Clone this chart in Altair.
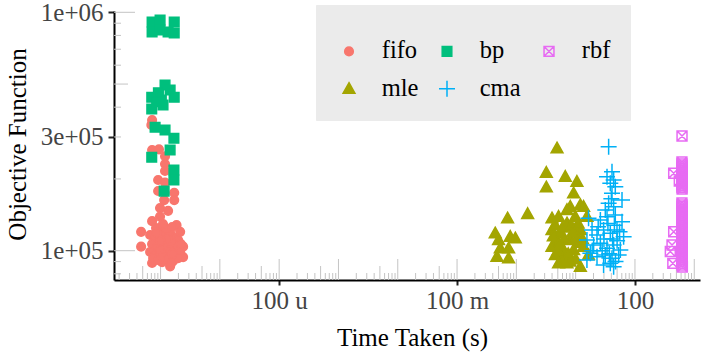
import altair as alt
import pandas as pd

# ---------------- data ----------------
fifo_x = [7.2e-7, 7.0e-7, 7.2e-7, 9.4e-7, 1.19e-6, 1.19e-6, 1.19e-6, 9.1e-7, 1.19e-6, 9.1e-7,
          1.7e-6, 1.15e-6, 1.7e-6, 9.8e-7, 1.34e-6, 7.2e-7, 9.8e-7, 1.86e-6, 4.7e-7, 2.14e-6,
          4.7e-7, 2.4e-6, 2.4e-6, 7.2e-7, 1.45e-6, 1.06e-6, 6.67e-7, 8.09e-7, 9.82e-7, 1.19e-6,
          1.45e-6, 1.76e-6, 1.98e-6, 7.2e-7, 8.7e-7, 1.06e-6, 1.29e-6, 1.57e-6, 1.9e-6, 2.2e-6,
          6.67e-7, 8.09e-7, 9.82e-7, 1.19e-6, 1.45e-6, 1.76e-6, 2.14e-6, 7.5e-7, 9.08e-7, 1.10e-6,
          1.34e-6, 1.63e-6, 1.98e-6, 8.4e-7, 1.24e-6, 1.57e-6, 1.10e-6, 1.3e-6, 1.0e-6, 1.6e-6,
          8.5e-7, 1.5e-6]
fifo_y = [353000, 337000, 264500, 266000, 249000, 231000, 216000, 198000, 193000, 178000,
          175000, 163000, 163000, 151000, 147000, 133000, 139000, 128000, 120000, 120000,
          104000, 104000, 94000, 88800, 86000, 89500, 116400, 113100, 121000, 115300,
          118600, 113100, 110900, 106700, 102700, 108800, 104700, 107700, 102700, 106700,
          98800, 95900, 100700, 96800, 99800, 95000, 98800, 93100, 91400, 94100,
          92200, 90500, 93100, 124500, 123300, 125500, 129400, 112000, 110000, 97000,
          119000, 88500]

bp_x = [7.2e-7, 7.2e-7, 9.82e-7, 9.82e-7, 1.34e-6, 1.7e-6, 1.7e-6,
        1.19e-6, 9.2e-7, 1.45e-6, 7.1e-7, 1.03e-6, 1.7e-6, 1.1e-6, 7.1e-7, 8.6e-7,
        8.09e-7, 1.19e-6, 1.68e-6, 1.45e-6, 7.1e-7, 1.68e-6, 1.68e-6, 1.15e-6]
bp_y = [910900, 826900, 928500, 843000, 826900, 910900, 819000,
        495500, 460000, 472200, 440000, 428700, 440000, 408600, 393000, 421700,
        329400, 320900, 296100, 264500, 246500, 218000, 198000, 177800]

mle_x = [4.85, 3.20, 6.68, 3.20, 10.5, 9.23, 8.12, 12.0, 0.711, 1.55,
         0.44, 0.501, 0.789, 0.96, 0.536, 0.74, 0.471, 0.74, 3.99, 5.15,
         13.6, 3.99, 4.85, 3.99, 4.54, 5.51, 7.14, 9.86, 12.0, 13.6,
         16.5, 12.0, 7.14, 9.23, 6.26, 8.12, 5.51, 10.5, 7.14, 15.5,
         4.5, 6.0, 8.5, 11.0, 5.0, 7.5, 10.0, 6.5, 9.0, 11.5,
         4.2, 8.0, 13.0, 6.0, 5.3, 5.15]
mle_y = [268900, 212400, 204400, 184500, 194700, 174100, 153000, 155500, 136800, 142600,
         118300, 110900, 114500, 112700, 102300, 102300, 94400, 92900, 136800, 138900,
         153000, 122100, 110900, 103900, 95900, 89900, 130300, 138900, 122100, 103900,
         95900, 85700, 88500, 100700, 100700, 110900, 118300, 114500, 148200, 138900,
         128000, 125000, 127000, 130000, 100000, 97000, 92000, 112000, 120000, 108000,
         115000, 90000, 112000, 92000, 107000, 88500]

cma_x = [36.0, 33.8, 41.0, 43.7, 38.4, 46.6, 60.5, 41.0, 36.0, 43.7,
         31.6, 16.5, 26.1, 33.8, 46.6, 60.5, 18.9, 22.9, 29.6, 38.4,
         49.8, 64.4, 15.5, 20.1, 26.1, 33.8, 43.7, 56.7, 17.7, 22.9,
         31.6, 41.0, 53.1, 38.4, 29.6, 43.7, 15.5, 40.0, 45.0, 35.0,
         50.0, 28.0, 42.0, 37.0, 47.0, 30.0, 55.0, 24.0, 19.0]
cma_y = [273000, 204400, 214500, 198000, 191700, 185600, 163200, 174100, 158000, 153000,
         148200, 136800, 134500, 138900, 141200, 132300, 122100, 116400, 122100, 118300,
         122100, 114500, 110900, 105700, 107400, 102300, 105700, 100700, 97500, 94400,
         95900, 92900, 95900, 88500, 87100, 85700, 91400, 165000, 128000, 130000,
         110000, 100000, 112000, 97000, 90000, 112000, 120000, 126000, 100000]

rbf_x = [622,
         620, 625, 618, 623, 621, 626, 619, 624,
         622, 619, 624, 620, 623, 618, 621,
         620, 624, 618, 623, 621, 625, 619, 622, 620, 626, 618, 624, 621, 623, 619, 622,
         623, 619, 621, 625, 620, 622, 618, 624, 621, 623, 620, 622, 619, 624, 621, 620,
         450, 622, 450, 422, 395, 435, 630, 560]
rbf_y = [302800,
         235500, 226600, 218000, 209800, 201800, 194200, 186800, 181500,
         231000, 222300, 213900, 205800, 198000, 190400, 184000,
         158500, 152900, 146700, 141200, 135800, 130700, 125700, 121000, 116400, 112000, 107700,
         103600, 99700, 95900, 92300, 88800,
         155500, 149600, 143900, 138500, 133200, 128200, 123300, 118700, 114200, 109800, 105700,
         101700, 97800, 94100, 90500, 87100,
         211200, 211200, 120100, 105700, 99200, 88500, 85400, 196000]

series_names = ["fifo", "mle", "bp", "cma", "rbf"]
series_colors = ["#F8766D", "#A3A500", "#00BF7D", "#00B0F6", "#E76BF3"]
series_fills = ["#F8766D", "#A3A500", "#00BF7D", "transparent", "transparent"]
series_shapes = [
    "M0.54,0A0.54,0.54,0,1,1,-0.54,0A0.54,0.54,0,1,1,0.54,0Z",
    "M0,-0.76L0.74,0.56L-0.74,0.56Z",
    "M-0.6,-0.6H0.6V0.6H-0.6Z",
    "M-1,0H1M0,-1V1",
    "M-0.62,-0.62H0.62V0.62H-0.62ZM-0.62,-0.62L0.62,0.62M0.62,-0.62L-0.62,0.62",
]

x_tick_values = [1e-4, 1e-1, 1e2]
x_tick_labels = ["100 u", "100 m", "100"]
y_tick_values = [1e5, 3e5, 1e6]
y_tick_labels = ["1e+05", "3e+05", "1e+06"]

x_domain = [1.64e-7, 1250]
y_domain = [75350, 1.0127e6]

# ---------------- table ----------------
rows = []
for name, xs, ys in [("fifo", fifo_x, fifo_y), ("bp", bp_x, bp_y), ("mle", mle_x, mle_y),
                     ("cma", cma_x, cma_y), ("rbf", rbf_x, rbf_y)]:
    for xv, yv in zip(xs, ys):
        rows.append({"time": xv, "obj": yv, "alg": name})
df = pd.DataFrame(rows)

# log-tick decoration positions (1..9 x 10^k)
def logticks(lo, hi, kmin, kmax):
    long_, mid_, short_ = [], [], []
    for k in range(kmin, kmax + 1):
        for m in range(1, 10):
            v = m * 10.0 ** k
            if lo <= v <= hi:
                (long_ if m == 1 else mid_ if m == 5 else short_).append(v)
    return long_, mid_, short_

xl, xm, xs_ = logticks(x_domain[0], x_domain[1], -8, 3)
yl, ym, ys_ = logticks(y_domain[0], y_domain[1], 4, 6)

def label_expr(vals, labs):
    expr = "''"
    for v, l in reversed(list(zip(vals, labs))):
        expr = f"datum.value <= {v * 1.01} ? '{l}' : " + expr
    return expr

FONT = "Liberation Serif"
H = 269
W = 586
TICK = "#c4c4c4"

xscale = alt.Scale(type="log", domain=x_domain, nice=False)
yscale = alt.Scale(type="log", domain=y_domain, nice=False)

xaxis = alt.Axis(values=x_tick_values, labelExpr=label_expr(x_tick_values, x_tick_labels),
                 title="Time Taken (s)", grid=False, domainColor="black", domainWidth=2,
                 tickColor="#222222", tickWidth=2, tickSize=5, labelFont=FONT, labelFontSize=25,
                 labelColor="#444444", labelPadding=3, titleFont=FONT, titleFontSize=25,
                 titleFontWeight="normal", titleColor="black", titleX=298, titleY=65,
                 titleBaseline="alphabetic", titleAlign="center", labelFlush=False)
yaxis = alt.Axis(values=y_tick_values, labelExpr=label_expr(y_tick_values, y_tick_labels),
                 title="Objective Function", grid=False, domainColor="black", domainWidth=2,
                 tickColor="#222222", tickWidth=2, tickSize=6, labelFont=FONT, labelFontSize=25,
                 labelColor="#444444", labelPadding=5, titleFont=FONT, titleFontSize=25,
                 titleFontWeight="normal", titleColor="black", titleX=-89, titleY=133,
                 titleAngle=-90, titleBaseline="alphabetic", titleAlign="center", labelFlush=False)

def xrule(vals, length):
    d = pd.DataFrame({"time": vals})
    return alt.Chart(d).mark_rule(color=TICK, strokeWidth=1).encode(
        x=alt.X("time:Q", scale=xscale, axis=xaxis),
        y=alt.value(H), y2=alt.value(H - length))

def yrule(vals, length):
    d = pd.DataFrame({"obj": vals})
    return alt.Chart(d).mark_rule(color=TICK, strokeWidth=1).encode(
        y=alt.Y("obj:Q", scale=yscale, axis=yaxis),
        x=alt.value(0), x2=alt.value(length))

points = alt.Chart(df).mark_point(opacity=1, size=256, strokeWidth=1.5).encode(
    x=alt.X("time:Q", scale=xscale, axis=xaxis),
    y=alt.Y("obj:Q", scale=yscale, axis=yaxis),
    stroke=alt.Stroke("alg:N", scale=alt.Scale(domain=series_names, range=series_colors),
                      legend=alt.Legend(title=" ")),
    fill=alt.Fill("alg:N", scale=alt.Scale(domain=series_names, range=series_fills),
                  legend=alt.Legend(title=" ")),
    shape=alt.Shape("alg:N", scale=alt.Scale(domain=series_names, range=series_shapes),
                    legend=alt.Legend(title=" ")),
)

chart = alt.layer(
    xrule(xs_, 7), xrule(xm, 14), xrule(xl, 21),
    yrule(ys_, 7), yrule(ym, 14), yrule(yl, 21),
    points,
).properties(
    width=W, height=H,
    autosize=alt.AutoSizeParams(type="none"),
    padding={"left": 114, "top": 11, "right": 1, "bottom": 79},
).configure_view(stroke=None).configure_legend(
    orient="none", legendX=202, legendY=-6, columns=3, fillColor="#EBEBEB",
    padding=19, symbolOffset=1.75, labelOffset=20.5, columnPadding=14, rowPadding=12.5,
    gridAlign="each",
    symbolSize=256, symbolStrokeWidth=1.5, labelFont=FONT, labelFontSize=24.5,
    labelColor="black", titleFontSize=10, titlePadding=5, cornerRadius=0,
    strokeColor="#EBEBEB", symbolOpacity=1,
)

chart.save("out.html", embed_options={"renderer": "svg", "actions": False})
